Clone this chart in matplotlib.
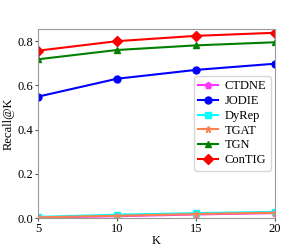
import matplotlib
matplotlib.use("Agg")
import matplotlib.pyplot as plt

plt.rcParams['font.family'] = ['Liberation Serif', 'DejaVu Serif']
plt.rcParams['font.size'] = 9

K = [5, 10, 15, 20]
ctdne = [0.002, 0.008, 0.016, 0.022]
jodie = [0.549, 0.630, 0.670, 0.698]
dyrep = [0.005, 0.015, 0.022, 0.028]
tgat = [0.003, 0.010, 0.018, 0.024]
tgn = [0.718, 0.760, 0.781, 0.795]
contig = [0.757, 0.800, 0.824, 0.838]

fig = plt.figure(figsize=(3.05, 2.49), dpi=100)
ax = fig.add_axes([38/305, 1-218/249, (275-38)/305, (218-29)/249])

ax.plot(K, ctdne, color='#ff33ff', marker='p', ms=5, lw=1.5, label='CTDNE')
ax.plot(K, jodie, color='#0000ff', marker='o', ms=5, lw=1.5, label='JODIE')
ax.plot(K, dyrep, color='#00ffff', marker='s', ms=5, lw=1.5, label='DyRep')
ax.plot(K, tgat, color='#ff7f50', marker='*', ms=5, lw=1.5, label='TGAT')
ax.plot(K, tgn, color='#008000', marker='^', ms=5, lw=1.5, label='TGN')
ax.plot(K, contig, color='#ff0000', marker='D', ms=5, lw=1.5, label='ConTIG')

ax.set_xlim(5, 20)
ax.set_ylim(0, 0.855)
ax.set_xticks([5, 10, 15, 20])
ax.set_yticks([0.0, 0.2, 0.4, 0.6, 0.8])
ax.set_xlabel('K', labelpad=0)
ax.set_ylabel('Recall@K', labelpad=2)
for s in ax.spines.values():
    s.set_color('#999999')
ax.tick_params(length=2.5, width=0.8, color='#555555', pad=1)
leg = ax.legend(loc='upper left', fontsize=9, handlelength=1.6, labelspacing=0.22,
                borderpad=0.35, handletextpad=0.5, borderaxespad=0)
leg.set_bbox_to_anchor(((194-38)/237, (218-76)/189), transform=ax.transAxes)

fig.savefig('out.png', dpi=100)
